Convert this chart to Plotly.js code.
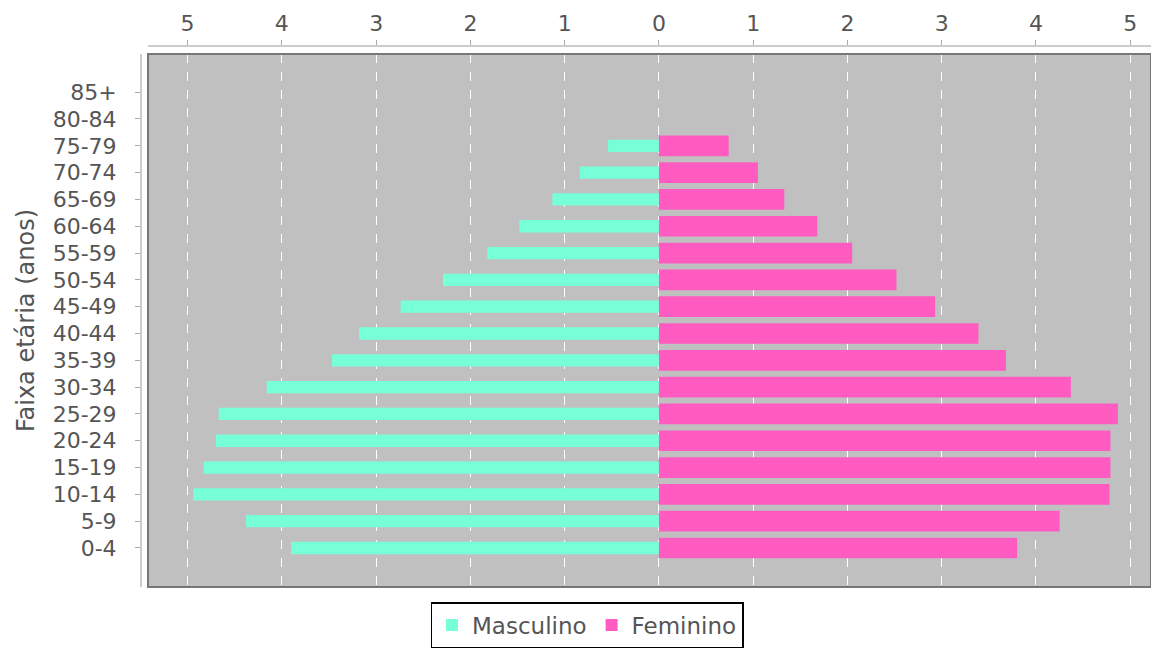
<!DOCTYPE html>
<html>
<head>
<meta charset="utf-8">
<script src="https://cdn.plot.ly/plotly-3.0.1.min.js"></script>
<style>html,body{margin:0;padding:0;background:#fff;overflow:hidden;}</style>
</head>
<body>
<div id="chart" style="width:1151px;height:651px;"></div>
<script>
const faixas = ["0-4","5-9","10-14","15-19","20-24","25-29","30-34","35-39","40-44","45-49","50-54","55-59","60-64","65-69","70-74","75-79","80-84","85+"];
const masculino = [3.90,4.38,4.94,4.83,4.70,4.67,4.16,3.47,3.18,2.74,2.29,1.82,1.48,1.13,0.84,0.54,0,0];
const feminino  = [3.80,4.25,4.78,4.79,4.79,4.87,4.37,3.68,3.39,2.93,2.52,2.05,1.68,1.33,1.05,0.74,0,0];
const tickValores = [-5,-4,-3,-2,-1,0,1,2,3,4,5];
const tickTextos  = ["5","4","3","2","1","0","1","2","3","4","5"];

const xd0 = 7/1010;
const yd1 = 0.985;

const traces = [
  {type:'bar', orientation:'h', name:'Masculino', y:faixas, x:masculino.map(v=>-v),
   marker:{color:'#77FFD8'}, width:0.46},
  {type:'bar', orientation:'h', name:'Feminino', y:faixas, x:feminino,
   marker:{color:'#FF5BC1'}, width:0.77}
];

const layout = {
  width:1151, height:651,
  margin:{l:141, r:0, t:46, b:64},
  paper_bgcolor:'#ffffff',
  plot_bgcolor:'#C0C0C0',
  barmode:'overlay',
  showlegend:true,
  font:{family:'DejaVu Sans, sans-serif', color:'#555'},
  xaxis:{
    domain:[xd0,1], side:'top', anchor:'free', position:1,
    range:[-5.42,5.22], tickvals:tickValores, ticktext:tickTextos,
    showline:true, linecolor:'#cccccc', linewidth:2,
    ticks:'outside', ticklen:5, tickcolor:'#aaaaaa',
    tickfont:{size:22, color:'#555'},
    showgrid:true, gridcolor:'#ffffff', griddash:'dash', gridwidth:1,
    zeroline:false, fixedrange:true
  },
  yaxis:{
    domain:[0,yd1], type:'category', categoryorder:'array', categoryarray:faixas,
    anchor:'free', position:0, range:[-1.455,18.42],
    showline:true, linecolor:'#cccccc', linewidth:2,
    ticks:'outside', ticklen:5, tickcolor:'#aaaaaa',
    tickfont:{size:22, color:'#555'}, ticklabelstandoff:14,
    showgrid:false, zeroline:false,
    title:{text:'Faixa etária (anos)', font:{size:24, color:'#555'}, standoff:10}
  },
  legend:{
    orientation:'h', x:0.4416, xanchor:'center', y:-0.028, yanchor:'top',
    bordercolor:'#000', borderwidth:1.5, bgcolor:'#fff',
    font:{size:23, color:'#555'}, itemwidth:30
  },
  shapes:[
    {type:'rect', xref:'paper', yref:'paper', x0:xd0, x1:1, y0:0, y1:yd1,
     line:{color:'#777', width:2}, fillcolor:'rgba(0,0,0,0)'}
  ]
};

Plotly.newPlot('chart', traces, layout, {staticPlot:true, displayModeBar:false});
</script>
</body>
</html>
